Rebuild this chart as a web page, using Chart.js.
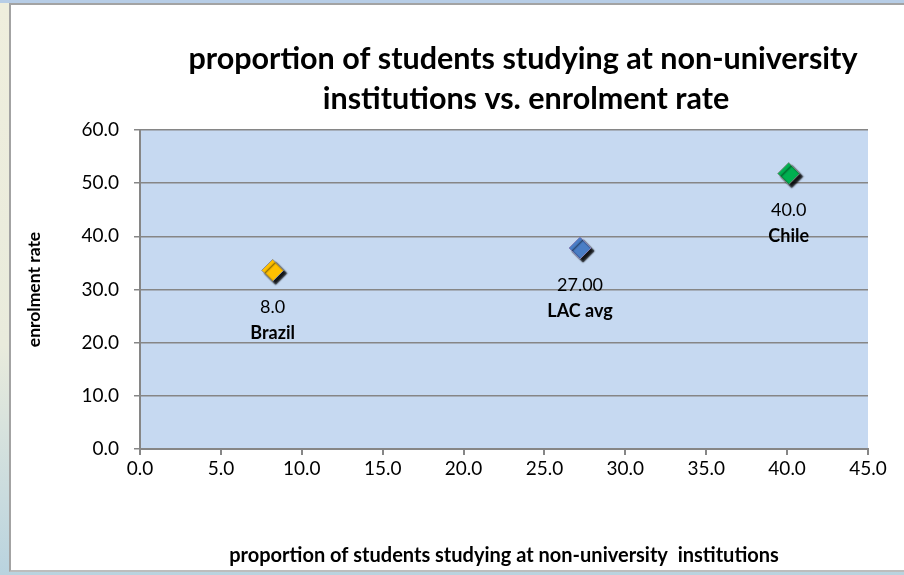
<!DOCTYPE html>
<html>
<head>
<meta charset="utf-8">
<script src="https://cdn.jsdelivr.net/npm/chart.js@4"></script>
<style>
  html, body { margin: 0; padding: 0; }
  body {
    width: 904px; height: 575px; overflow: hidden; position: relative;
    background: linear-gradient(to bottom, #b7cde6 0px, #b7cde6 3px, #efeedd 3px, #e9ebdc 60%, #b9d3df 100%);
  }
  #frame {
    position: absolute; left: 9px; top: 3px; width: 900px; height: 569px;
    background: #fff; border-left: 2px solid #a3a3a3; border-top: 2px solid #a3a3a3;
    border-bottom: 2px solid #bdbdbd; box-sizing: border-box;
  }
  #wrap { position: absolute; left: 0; top: 0; width: 904px; height: 575px; }
</style>
</head>
<body>
<div id="frame"></div>
<div id="wrap"><canvas id="chart"></canvas></div>
<script>
// data
const countries = ['Brazil', 'LAC avg', 'Chile'];
const nonUniShare = [8.2, 27.2, 40.1];
const enrolment = [33.6, 37.8, 51.8];
const valueLabels = ['8.0', '27.00', '40.0'];
const markerColors = ['#ffc000', '#4a7ec6', '#00b050'];
const markerBorders = ['#8e8e8e', '#8080b8', '#7a8a80'];
const titleLines = ['proportion of students studying at non-university', 'institutions vs. enrolment rate'];

const FONT = "Lato, 'Open Sans', sans-serif";

// excel-like drop shadow under the markers
const markerShadow = {
  id: 'markerShadow',
  beforeDatasetsDraw(chart) {
    const ctx = chart.ctx;
    ctx.save();
    ctx.shadowColor = 'rgba(0,0,0,0.9)';
    ctx.shadowOffsetX = 3;
    ctx.shadowOffsetY = 3;
    ctx.shadowBlur = 1.5;
  },
  afterDatasetsDraw(chart) {
    chart.ctx.restore();
  }
};

// two-line title, centred a bit right of the plot
const topTitle = {
  id: 'topTitle',
  afterDraw(chart) {
    const ctx = chart.ctx;
    ctx.save();
    ctx.font = 'bold 30.5px ' + FONT;
    ctx.fillStyle = '#000';
    ctx.textAlign = 'center';
    ctx.textBaseline = 'middle';
    ctx.fillText(titleLines[0], 523, 59);
    ctx.fillText(titleLines[1], 526, 99);
    ctx.restore();
  }
};

// value + country label under each point
const pointLabels = {
  id: 'pointLabels',
  afterDatasetsDraw(chart) {
    const ctx = chart.ctx;
    const meta = chart.getDatasetMeta(0);
    ctx.save();
    ctx.fillStyle = '#000';
    ctx.textAlign = 'center';
    ctx.textBaseline = 'middle';
    meta.data.forEach((pt, i) => {
      ctx.font = '18px ' + FONT;
      ctx.fillText(valueLabels[i], pt.x, pt.y + 37);
      ctx.font = 'bold 18px ' + FONT;
      ctx.fillText(countries[i], pt.x, pt.y + 63);
    });
    ctx.restore();
  }
};

new Chart(document.getElementById('chart'), {
  type: 'scatter',
  data: {
    datasets: [{
      data: nonUniShare.map((x, i) => ({ x: x, y: enrolment[i] })),
      pointStyle: 'rectRot',
      pointRadius: 11,
      pointHoverRadius: 11,
      pointBackgroundColor: markerColors,
      pointBorderColor: markerBorders,
      pointBorderWidth: 1
    }]
  },
  options: {
    responsive: true,
    maintainAspectRatio: false,
    animation: false,
    layout: { padding: { left: 0, right: 36, top: 130, bottom: 0 } },
    plugins: {
      legend: { display: false },
      tooltip: { enabled: false },
      title: { display: false }
    },
    scales: {
      x: {
        type: 'linear',
        min: 0, max: 45,
        afterFit: (s) => { s.height = 126; },
        border: { display: true, color: '#868686', width: 2 },
        grid: { drawOnChartArea: false, drawTicks: true, tickLength: 6, color: '#868686', lineWidth: 2 },
        ticks: {
          stepSize: 5,
          padding: 2,
          color: '#000',
          font: { size: 19, family: FONT },
          callback: (v) => v.toFixed(1)
        },
        title: {
          display: true,
          text: 'proportion of students studying at non-university  institutions',
          color: '#000',
          font: { size: 20, weight: 'bold', family: FONT },
          padding: { top: 0, bottom: 7 }
        }
      },
      y: {
        min: 0, max: 60,
        afterFit: (s) => { s.width = 140; },
        border: { display: true, color: '#868686', width: 2 },
        grid: { color: '#868686', lineWidth: 1.5, tickLength: 6 },
        ticks: {
          stepSize: 10,
          padding: 15,
          color: '#000',
          font: { size: 19, family: FONT },
          callback: (v) => v.toFixed(1)
        },
        title: {
          display: true,
          text: 'enrolment rate',
          color: '#000',
          font: { size: 17.5, weight: 'bold', family: FONT },
          padding: { top: 24, bottom: 0 }
        }
      }
    }
  },
  plugins: [
    {
      id: 'plotBg',
      beforeDraw(chart) {
        const a = chart.chartArea;
        chart.ctx.save();
        chart.ctx.fillStyle = '#c6d9f1';
        chart.ctx.fillRect(a.left, a.top, a.right - a.left, a.bottom - a.top);
        chart.ctx.restore();
      }
    },
    markerShadow, topTitle, pointLabels
  ]
});
</script>
</body>
</html>
